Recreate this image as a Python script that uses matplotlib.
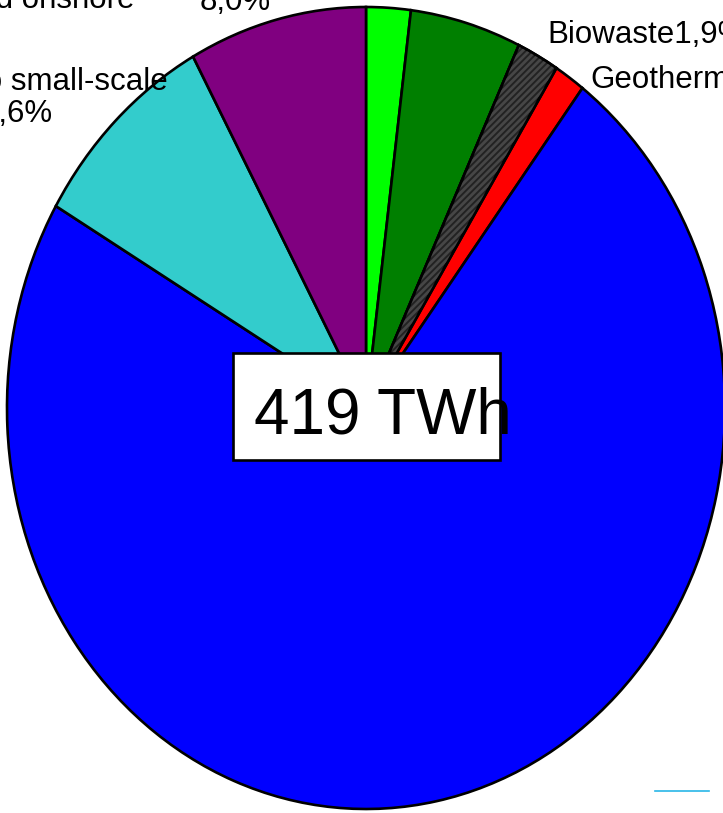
import numpy as np
import matplotlib
matplotlib.use("Agg")
import matplotlib.pyplot as plt
from matplotlib.patches import Wedge, Rectangle
from matplotlib.lines import Line2D

# Slices, clockwise from 12 o'clock
shares = [2.0, 5.0, 1.9, 1.4, 73.1, 8.6, 8.0]
colors = ['#00FF00', '#007F00', '#222222', '#FF0000', '#0000FF', '#33CCCC', '#800080']
hatched = [False, False, True, False, False, False, False]
total_label = "419 TWh"

W, H = 723, 813
cx, cy = 366, 408      # pie centre, px
rx, ry = 359, 401      # pie radii, px (chart is stretched vertically)

plt.rcParams['font.family'] = ['Liberation Sans', 'DejaVu Sans']
plt.rcParams['hatch.linewidth'] = 2.0

fig = plt.figure(figsize=(W / 100, H / 100), dpi=100)
ax = fig.add_axes([0, 0, 1, 1])

wedges, _ = ax.pie(shares, colors=colors, startangle=90, counterclock=False,
                   radius=1, center=(0, 0),
                   wedgeprops=dict(edgecolor='black', linewidth=1.9))

# stripes on the biowaste slice
for w, h in zip(wedges, hatched):
    if h:
        stripe = Wedge(w.center, w.r, w.theta1, w.theta2, facecolor='none',
                       edgecolor='#464646', linewidth=0, hatch='/////', zorder=w.get_zorder() + 0.1)
        ax.add_patch(stripe)
        ax.add_patch(Wedge(w.center, w.r, w.theta1, w.theta2, facecolor='none',
                           edgecolor='black', linewidth=1.9, zorder=w.get_zorder() + 0.2))

ax.set_aspect('auto')
ax.set_xlim(-cx / rx, (W - cx) / rx)
ax.set_ylim(-(H - cy) / ry, cy / ry)
ax.axis('off')


def px(x, y):
    return x / W, 1 - y / H


fs = 22.5
fig.text(*px(135, 8), "Wind onshore", fontsize=fs, ha='right', va='baseline')
fig.text(*px(200, 10), "8,0%", fontsize=fs, ha='left', va='baseline')
fig.text(*px(168, 90), "Hydro small-scale", fontsize=fs, ha='right', va='baseline')
fig.text(*px(53, 122), "8,6%", fontsize=fs, ha='right', va='baseline')
fig.text(*px(547, 43), "Biowaste1,9%", fontsize=fs, ha='left', va='baseline')
fig.text(*px(590, 88), "Geothermal1,4%", fontsize=fs, ha='left', va='baseline')

# total box in the middle
bx0, by0, bx1, by1 = 233, 353, 500, 460
fig.patches.append(Rectangle(px(bx0, by1), (bx1 - bx0) / W, (by1 - by0) / H,
                             transform=fig.transFigure, facecolor='white',
                             edgecolor='black', linewidth=1.9, zorder=5))
fig.text(*px(254, 433), total_label, fontsize=46, ha='left', va='baseline', zorder=6)

# small leftover line bottom right
fig.lines.append(Line2D([655 / W, 709 / W], [1 - 791 / H, 1 - 791 / H],
                        transform=fig.transFigure, color='#29B6E8', linewidth=1.2))

fig.savefig("out.png", dpi=100)
